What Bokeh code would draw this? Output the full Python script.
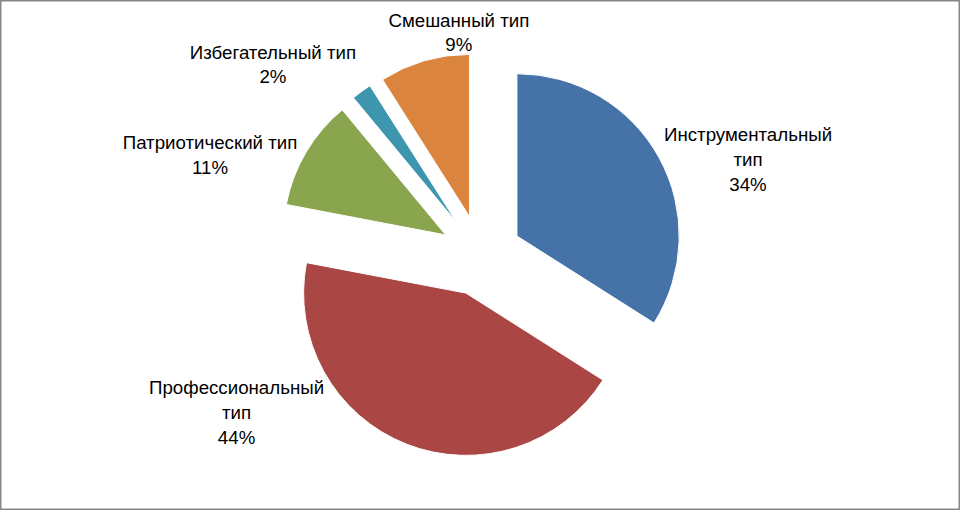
import math
from bokeh.plotting import figure
from bokeh.models import Range1d, ColumnDataSource
from bokeh.embed import file_html
from bokeh.resources import INLINE
from bokeh.core.properties import value

# ---- data ----
categories = ["Инструментальный тип", "Профессиональный тип", "Патриотический тип",
              "Избегательный тип", "Смешанный тип"]
shares = [34, 44, 11, 2, 9]
colors = ["#4572A7", "#AA4643", "#89A54E", "#3D96AE", "#DB843D"]

# ---- layout (reference pixel coordinates, y measured from top) ----
W, H = 976, 526
CX, CY = 488.5, 263.0
R = 165.0
EXPLODE = 41.7
wrap = {0, 1}
label_pos = [(760, 164), (240, 425), (213, 159.5), (277, 66), (466, 33)]


def ty(y):
    return H - y


total = float(sum(shares))
xs, ys, starts, ends = [], [], [], []
acc = 0.0
for v in shares:
    t1 = acc / total * 360.0
    t2 = (acc + v) / total * 360.0
    mid = math.radians((t1 + t2) / 2.0)
    xs.append(CX + EXPLODE * math.sin(mid))
    ys.append(ty(CY) + EXPLODE * math.cos(mid))
    starts.append(math.radians(90.0 - t2))
    ends.append(math.radians(90.0 - t1))
    acc += v

src = ColumnDataSource(dict(x=xs, y=ys, start=starts, end=ends, color=colors))

p = figure(width=960, height=510, output_backend="svg", toolbar_location=None,
           x_range=Range1d(0, W), y_range=Range1d(0, H),
           x_axis_type=None, y_axis_type=None, min_border=0)
p.grid.visible = False
p.background_fill_color = "white"
p.border_fill_color = "white"
p.outline_line_color = "#868686"
p.outline_line_width = 2

p.wedge(x="x", y="y", radius=R, start_angle="start", end_angle="end",
        direction="anticlock", fill_color="color", line_color="white",
        line_width=1, source=src)

texts = []
for i, (c, v) in enumerate(zip(categories, shares)):
    name = c.replace(" ", "\n") if i in wrap else c
    texts.append(f"{name}\n{v}%")

lsrc = ColumnDataSource(dict(x=[lp[0] for lp in label_pos],
                             y=[ty(lp[1]) for lp in label_pos],
                             text=texts))
p.text(x="x", y="y", text="text", source=lsrc, text_align="center",
       text_baseline="middle", text_font=value("Liberation Sans"),
       text_font_size="18.7px", text_line_height=1.18, text_color="black")

open("out.html", "w").write(file_html(p, INLINE))
